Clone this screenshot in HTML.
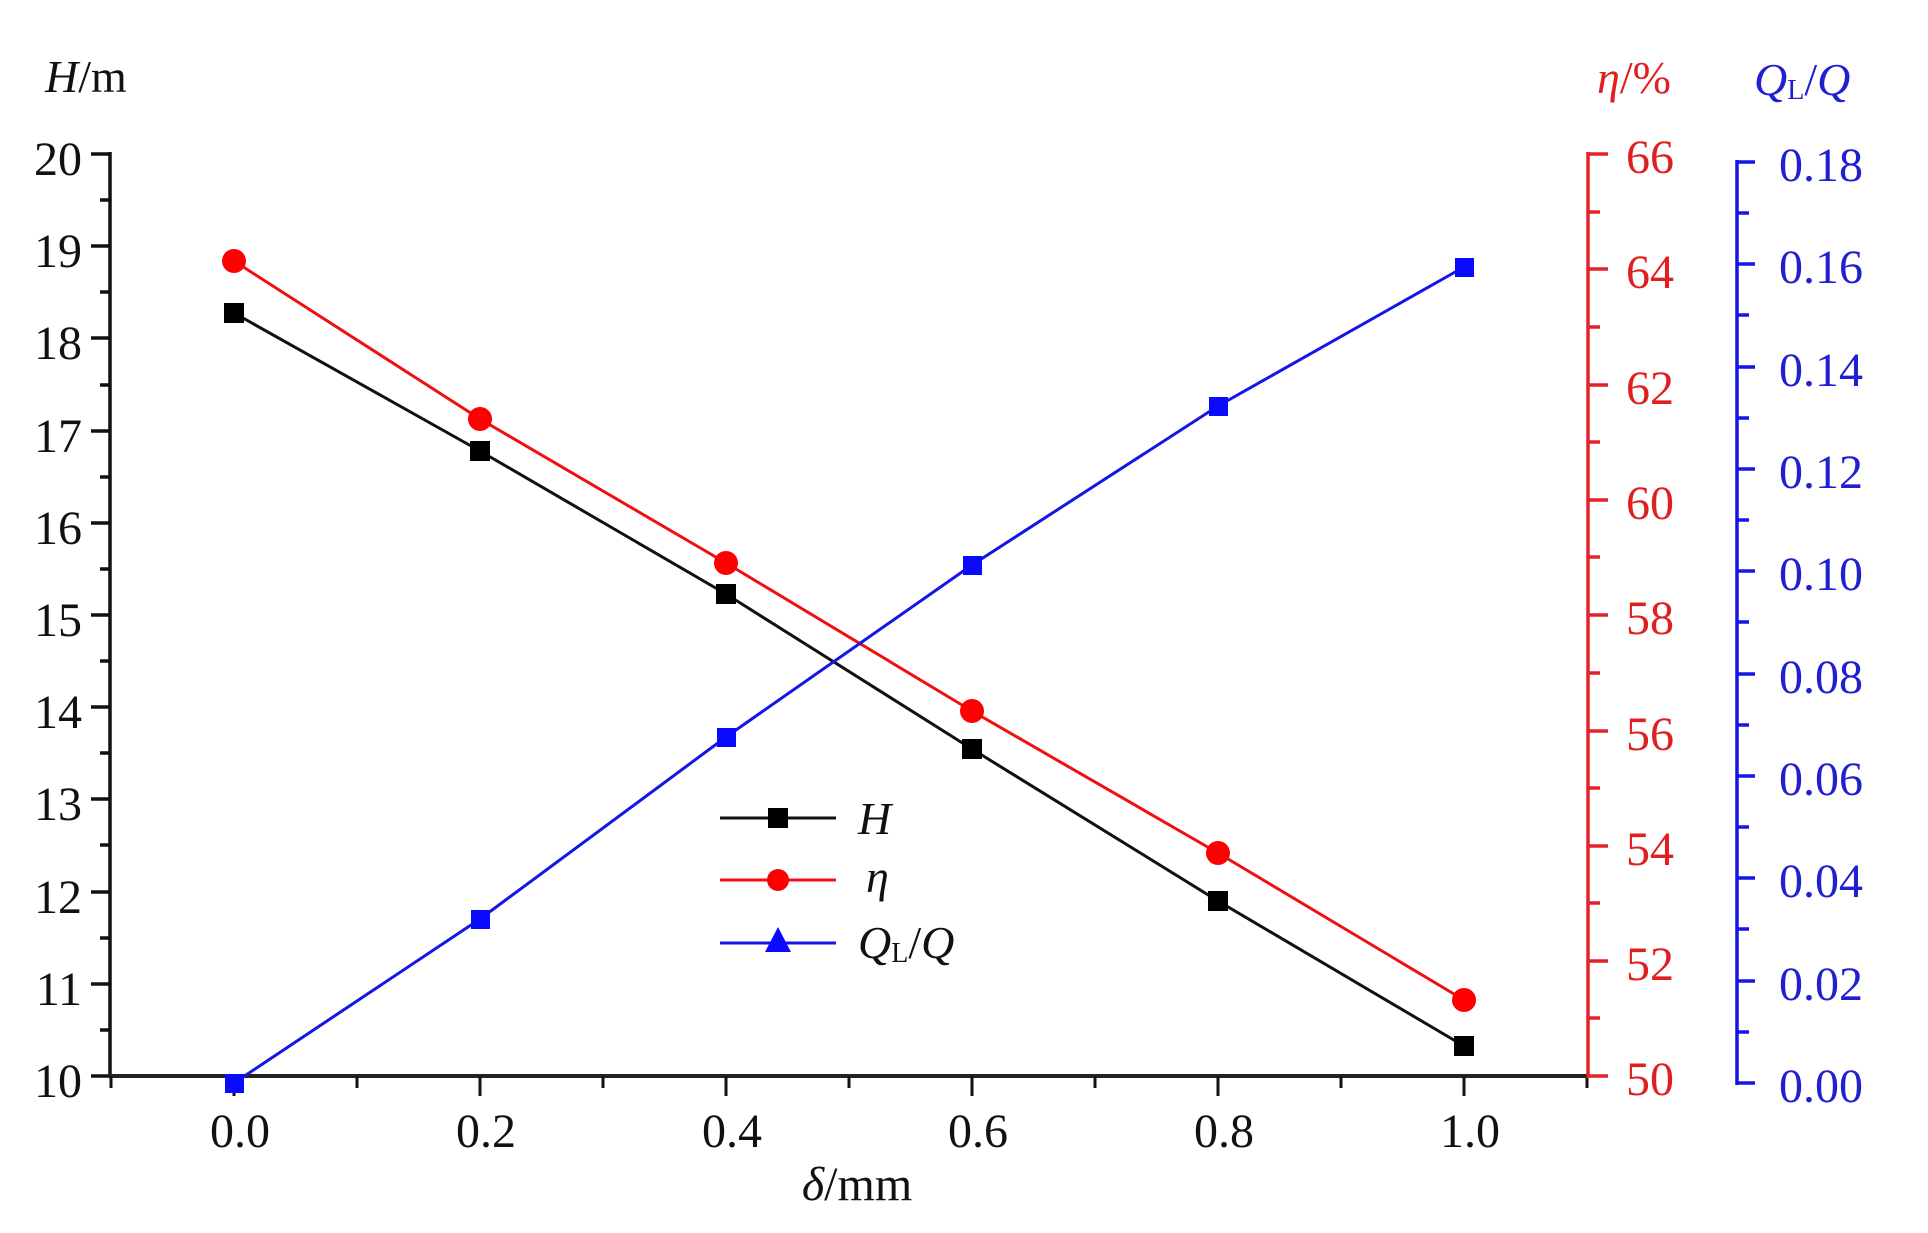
<!DOCTYPE html>
<html><head><meta charset="utf-8"><style>
html,body{margin:0;padding:0;background:#fff;}
svg{display:block;}
text{font-family:"Liberation Serif",serif;}
</style></head><body>
<svg width="1928" height="1233" viewBox="0 0 1928 1233" xmlns="http://www.w3.org/2000/svg">
<!-- left axis -->
<g stroke="#111" stroke-width="3.5">
<line x1="110" y1="152" x2="110" y2="1078"/>
<line x1="91" y1="154" x2="110" y2="154"/><line x1="100" y1="200" x2="110" y2="200"/>
<line x1="91" y1="246" x2="110" y2="246"/><line x1="100" y1="292" x2="110" y2="292"/>
<line x1="91" y1="338" x2="110" y2="338"/><line x1="100" y1="385" x2="110" y2="385"/>
<line x1="91" y1="431" x2="110" y2="431"/><line x1="100" y1="477" x2="110" y2="477"/>
<line x1="91" y1="523" x2="110" y2="523"/><line x1="100" y1="569" x2="110" y2="569"/>
<line x1="91" y1="615" x2="110" y2="615"/><line x1="100" y1="661" x2="110" y2="661"/>
<line x1="91" y1="707" x2="110" y2="707"/><line x1="100" y1="753" x2="110" y2="753"/>
<line x1="91" y1="799" x2="110" y2="799"/><line x1="100" y1="845" x2="110" y2="845"/>
<line x1="91" y1="892" x2="110" y2="892"/><line x1="100" y1="938" x2="110" y2="938"/>
<line x1="91" y1="984" x2="110" y2="984"/><line x1="100" y1="1030" x2="110" y2="1030"/>
<line x1="91" y1="1076" x2="110" y2="1076"/>
</g>
<g font-size="48" fill="#111" text-anchor="end">
<text x="82" y="175">20</text><text x="82" y="267">19</text><text x="82" y="359">18</text>
<text x="82" y="452">17</text><text x="82" y="544">16</text><text x="82" y="636">15</text>
<text x="82" y="728">14</text><text x="82" y="820">13</text><text x="82" y="913">12</text>
<text x="82" y="1005">11</text><text x="82" y="1097">10</text>
</g>
<!-- x axis -->
<g stroke="#222" stroke-width="4">
<line x1="108" y1="1076" x2="1588" y2="1076"/>
</g>
<g stroke="#111" stroke-width="3">
<line x1="111" y1="1076" x2="1111" y2="1088" stroke-width="0"/>
<line x1="111" y1="1076" x2="111" y2="1088"/>
<line x1="234" y1="1076" x2="234" y2="1096"/><line x1="357" y1="1076" x2="357" y2="1088"/>
<line x1="480" y1="1076" x2="480" y2="1096"/><line x1="603" y1="1076" x2="603" y2="1088"/>
<line x1="726" y1="1076" x2="726" y2="1096"/><line x1="849" y1="1076" x2="849" y2="1088"/>
<line x1="972" y1="1076" x2="972" y2="1096"/><line x1="1095" y1="1076" x2="1095" y2="1088"/>
<line x1="1218" y1="1076" x2="1218" y2="1096"/><line x1="1341" y1="1076" x2="1341" y2="1088"/>
<line x1="1464" y1="1076" x2="1464" y2="1096"/><line x1="1587" y1="1076" x2="1587" y2="1088"/>
</g>
<g font-size="48" fill="#111" text-anchor="middle">
<text x="240" y="1147">0.0</text><text x="486" y="1147">0.2</text><text x="732" y="1147">0.4</text>
<text x="978" y="1147">0.6</text><text x="1224" y="1147">0.8</text><text x="1470" y="1147">1.0</text>
</g>
<text x="857" y="1200" font-size="48" fill="#111" text-anchor="middle"><tspan font-style="italic">δ</tspan>/mm</text>
<text x="45" y="92" font-size="46" fill="#111"><tspan font-style="italic">H</tspan>/m</text>
<!-- red axis -->
<g stroke="#e42326" stroke-width="3.5">
<line x1="1588" y1="152" x2="1588" y2="1078"/>
<line x1="1588" y1="154" x2="1608" y2="154"/><line x1="1588" y1="212" x2="1600" y2="212"/>
<line x1="1588" y1="269" x2="1608" y2="269"/><line x1="1588" y1="327" x2="1600" y2="327"/>
<line x1="1588" y1="385" x2="1608" y2="385"/><line x1="1588" y1="442" x2="1600" y2="442"/>
<line x1="1588" y1="500" x2="1608" y2="500"/><line x1="1588" y1="557" x2="1600" y2="557"/>
<line x1="1588" y1="615" x2="1608" y2="615"/><line x1="1588" y1="673" x2="1600" y2="673"/>
<line x1="1588" y1="731" x2="1608" y2="731"/><line x1="1588" y1="788" x2="1600" y2="788"/>
<line x1="1588" y1="846" x2="1608" y2="846"/><line x1="1588" y1="903" x2="1600" y2="903"/>
<line x1="1588" y1="961" x2="1608" y2="961"/><line x1="1588" y1="1018" x2="1600" y2="1018"/>
<line x1="1588" y1="1076" x2="1608" y2="1076"/>
</g>
<g font-size="48" fill="#e02020">
<text x="1626" y="173">66</text><text x="1626" y="288">64</text><text x="1626" y="404">62</text>
<text x="1626" y="519">60</text><text x="1626" y="634">58</text><text x="1626" y="750">56</text>
<text x="1626" y="865">54</text><text x="1626" y="980">52</text><text x="1626" y="1095">50</text>
</g>
<text x="1597" y="93" font-size="46" fill="#e02020"><tspan font-style="italic">η</tspan>/%</text>
<!-- blue axis -->
<g stroke="#1515e6" stroke-width="3.5">
<line x1="1737" y1="160" x2="1737" y2="1085"/>
<line x1="1737" y1="162" x2="1755" y2="162"/><line x1="1737" y1="213" x2="1749" y2="213"/>
<line x1="1737" y1="264" x2="1755" y2="264"/><line x1="1737" y1="315" x2="1749" y2="315"/>
<line x1="1737" y1="367" x2="1755" y2="367"/><line x1="1737" y1="418" x2="1749" y2="418"/>
<line x1="1737" y1="469" x2="1755" y2="469"/><line x1="1737" y1="520" x2="1749" y2="520"/>
<line x1="1737" y1="571" x2="1755" y2="571"/><line x1="1737" y1="622" x2="1749" y2="622"/>
<line x1="1737" y1="674" x2="1755" y2="674"/><line x1="1737" y1="725" x2="1749" y2="725"/>
<line x1="1737" y1="776" x2="1755" y2="776"/><line x1="1737" y1="827" x2="1749" y2="827"/>
<line x1="1737" y1="878" x2="1755" y2="878"/><line x1="1737" y1="929" x2="1749" y2="929"/>
<line x1="1737" y1="981" x2="1755" y2="981"/><line x1="1737" y1="1032" x2="1749" y2="1032"/>
<line x1="1737" y1="1083" x2="1755" y2="1083"/>
</g>
<g font-size="48" fill="#2020d0">
<text x="1779" y="181">0.18</text><text x="1779" y="283">0.16</text><text x="1779" y="386">0.14</text>
<text x="1779" y="488">0.12</text><text x="1779" y="590">0.10</text><text x="1779" y="693">0.08</text>
<text x="1779" y="795">0.06</text><text x="1779" y="897">0.04</text><text x="1779" y="1000">0.02</text>
<text x="1779" y="1102">0.00</text>
</g>
<text x="1754" y="95" font-size="46" fill="#2020d0"><tspan font-style="italic">Q</tspan><tspan font-size="28" dy="4">L</tspan><tspan dy="-4">/</tspan><tspan font-style="italic">Q</tspan></text>
<!-- series -->
<polyline fill="none" stroke="#111" stroke-width="3" points="234,313 480,451 726,594 972,749 1218,901 1464,1046"/>
<polyline fill="none" stroke="#f01010" stroke-width="3" points="234,261 480,419 726,563 972,711 1218,853 1464,1000"/>
<polyline fill="none" stroke="#1515e6" stroke-width="3" points="234,1083 480,919 726,737 972,565 1218,406 1464,267"/>
<g fill="#000">
<rect x="224" y="303" width="20" height="20"/><rect x="470" y="441" width="20" height="20"/>
<rect x="716" y="584" width="20" height="20"/><rect x="962" y="739" width="20" height="20"/>
<rect x="1208" y="891" width="20" height="20"/><rect x="1454" y="1036" width="20" height="20"/>
</g>
<g fill="#f00">
<circle cx="234" cy="261" r="12"/><circle cx="480" cy="419" r="12"/><circle cx="726" cy="563" r="12"/>
<circle cx="972" cy="711" r="12"/><circle cx="1218" cy="853" r="12"/><circle cx="1464" cy="1000" r="12"/>
</g>
<g fill="#0a0aff">
<rect x="225" y="1074" width="19" height="19"/><rect x="471" y="910" width="19" height="19"/>
<rect x="717" y="728" width="19" height="19"/><rect x="963" y="556" width="19" height="19"/>
<rect x="1209" y="397" width="19" height="19"/><rect x="1455" y="258" width="19" height="19"/>
</g>
<!-- legend -->
<line x1="720" y1="818" x2="836" y2="818" stroke="#111" stroke-width="3"/>
<rect x="768" y="808" width="20" height="20" fill="#000"/>
<line x1="720" y1="880" x2="836" y2="880" stroke="#f01010" stroke-width="3"/>
<circle cx="778" cy="880" r="11" fill="#f00"/>
<line x1="720" y1="943" x2="836" y2="943" stroke="#1515e6" stroke-width="3"/>
<polygon points="778,927 791,952 765,952" fill="#0a0aff"/>
<g font-size="46" fill="#111" font-style="italic">
<text x="858" y="834">H</text>
<text x="866" y="892">η</text>
</g>
<text x="858" y="958" font-size="46" fill="#111"><tspan font-style="italic">Q</tspan><tspan font-size="28" dy="4">L</tspan><tspan dy="-4">/</tspan><tspan font-style="italic">Q</tspan></text>
</svg>
</body></html>
